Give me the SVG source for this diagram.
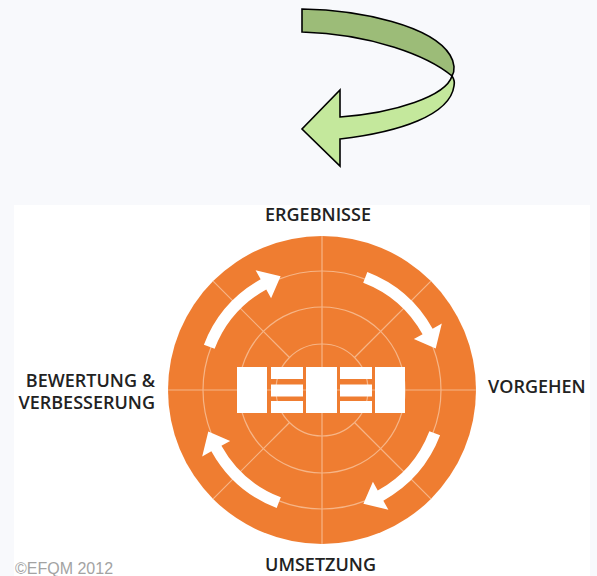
<svg xmlns="http://www.w3.org/2000/svg" width="597" height="576" viewBox="0 0 597 576">
<style>
.lbl{font-family:"Open Sans","Liberation Sans",Arial,sans-serif;font-weight:600;font-size:18px;fill:#222}
.grid{stroke:#f6b587;stroke-width:1.2;fill:none}
.warrow{fill:#ffffff}
.gstroke{stroke:#000;stroke-width:1.6;stroke-linejoin:miter}
</style>
<defs>
<path id="wa" d="M118.10,45.33 A126.5,126.5 0 0 1 61.33,110.64 L66.42,119.82 L41.38,113.70 L50.91,91.84 L55.75,100.58 A115,115 0 0 0 107.36,41.21 Z"/>
</defs>
<rect x="0" y="0" width="597" height="576" fill="#f8f9fc"/>
<rect x="14" y="205" width="576" height="371" fill="#ffffff"/>

<g id="curved-arrow">
<path class="gstroke" fill="#9cbc78" d="M302,9 C362,10 432,26 450,55 C455,63 455,71 452,76 C428,56 372,34 302,32 Z"/>
<path class="gstroke" fill="#c4e89c" d="M452,76 C446,96 395,113 340,117 L340,90 L302,129 L340,166 L340,139 C400,132 450,115 454,86 C455,82 454,79 452,76 Z"/>
</g>

<g id="efqm-wheel">
<circle cx="322" cy="390" r="154" fill="#ef7d31"/>
<g class="grid">
<circle cx="322" cy="390" r="46"/>
<circle cx="322" cy="390" r="83"/>
<circle cx="322" cy="390" r="119"/>
<line x1="322" y1="236" x2="322" y2="544"/>
<line x1="168" y1="390" x2="476" y2="390"/>
<line x1="354.5" y1="357.5" x2="430.9" y2="281.1"/>
<line x1="289.5" y1="357.5" x2="213.1" y2="281.1"/>
<line x1="354.5" y1="422.5" x2="430.9" y2="498.9"/>
<line x1="289.5" y1="422.5" x2="213.1" y2="498.9"/>
</g>
<g transform="translate(322,390)" class="warrow">
<use href="#wa"/>
<use href="#wa" transform="rotate(90)"/>
<use href="#wa" transform="rotate(180)"/>
<use href="#wa" transform="rotate(270)"/>
</g>
<g fill="#ffffff">
<rect x="237" y="367" width="30" height="46"/>
<rect x="271" y="367" width="32" height="12"/>
<rect x="271" y="384.5" width="32" height="12"/>
<rect x="271" y="401" width="32" height="12"/>
<rect x="306" y="367" width="31" height="46"/>
<rect x="340" y="367" width="32" height="12"/>
<rect x="340" y="384.5" width="32" height="12"/>
<rect x="340" y="401" width="32" height="12"/>
<rect x="375" y="367" width="30" height="46"/>
</g>
</g>

<g id="label-ergebnisse"><text class="lbl" x="318" y="221" text-anchor="middle">ERGEBNISSE</text></g>
<g id="label-vorgehen"><text class="lbl" x="488" y="393">VORGEHEN</text></g>
<g id="label-umsetzung"><text class="lbl" x="320.5" y="571" text-anchor="middle">UMSETZUNG</text></g>
<g id="label-bewertung">
<text class="lbl" x="155" y="387" text-anchor="end">BEWERTUNG &amp;</text>
<text class="lbl" x="155" y="409" text-anchor="end">VERBESSERUNG</text>
</g>
<g id="copyright"><text x="15" y="574" font-family="Liberation Sans, Arial, sans-serif" font-size="16" fill="#a3a3a3">©EFQM 2012</text></g>
</svg>
